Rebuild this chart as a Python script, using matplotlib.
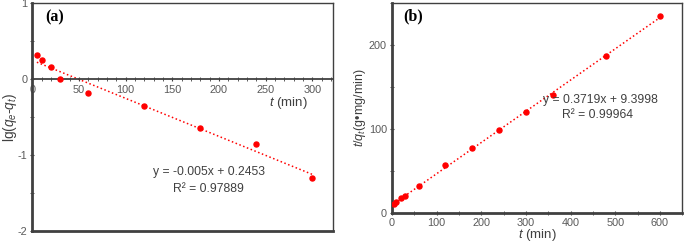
import numpy as np
import matplotlib
matplotlib.use("Agg")
import matplotlib.pyplot as plt
from matplotlib.ticker import MultipleLocator

# -----------------------------
# Data
t_a = [5, 10, 20, 30, 60, 120, 180, 240, 300]
lg_a = [0.32, 0.25, 0.155, 0.0, -0.19, -0.36, -0.64, -0.855, -1.30]
fit_a = (-0.005, 0.2453)

t_b = [5, 10, 20, 30, 60, 120, 180, 240, 300, 360, 480, 600]
tq_b = [11.2, 13.1, 17.8, 19.8, 31.7, 56.6, 77.5, 99.3, 119.8, 140.8, 187.4, 234.0]
fit_b = (0.3719, 9.3998)

red = "#ff0000"
frame = "#404040"
tick_col = "#595959"

plt.rcParams['font.family'] = ['Liberation Sans', 'DejaVu Sans']
plt.rcParams['mathtext.fontset'] = 'custom'
plt.rcParams['mathtext.it'] = 'Liberation Sans:italic'
plt.rcParams['mathtext.rm'] = 'Liberation Sans'
plt.rcParams['axes.unicode_minus'] = False

fig = plt.figure(figsize=(6.85, 2.42), dpi=100)

# -----------------------------
# Panel (a): pseudo-first-order
ax1 = fig.add_axes([0.047, 0.045, 0.439, 0.943])
ax1.scatter(t_a, lg_a, s=13, color=red, zorder=3)
xf = np.array([t_a[0], t_a[-1]])
ax1.plot(xf, fit_a[0] * xf + fit_a[1], color=red, ls=':', lw=1.1)
ax1.set_xlim(0, 322)
ax1.set_ylim(-2, 1)
ax1.spines['bottom'].set_position(('data', 0))
ax1.axhline(-2, color=frame, lw=2, clip_on=False)
for s in ax1.spines.values():
    s.set_color(frame)
ax1.spines['left'].set_linewidth(2)
ax1.spines['bottom'].set_linewidth(1.3)
ax1.spines['top'].set_linewidth(1)
ax1.spines['right'].set_linewidth(1)
ax1.xaxis.set_major_locator(MultipleLocator(50))
ax1.xaxis.set_minor_locator(MultipleLocator(10))
ax1.yaxis.set_major_locator(MultipleLocator(1))
ax1.yaxis.set_minor_locator(MultipleLocator(0.5))
ax1.tick_params(axis='x', which='both', direction='inout', length=3, color=frame,
                labelsize=7.8, labelcolor=tick_col, pad=3)
ax1.tick_params(axis='y', which='both', direction='inout', length=3, color=frame,
                labelsize=7.8, labelcolor=tick_col, pad=2)
ax1.set_ylabel(r'lg($q_e$-$q_t$)', fontsize=9.8, color='#404040')
ax1.yaxis.set_label_coords(-0.073, 0.5)
ax1.yaxis.label.set_va('center')
ax1.text(254, -0.316, r'$t$ (min)', fontsize=9.5, color='#404040', ha='left', va='center')
ax1.text(0.045, 0.935, '(a)', transform=ax1.transAxes, fontsize=11.5, fontweight='bold',
         family='Liberation Serif', va='center')
ax1.text(189, -1.224, 'y = -0.005x + 0.2453', fontsize=8.7, color='#404040', ha='center', va='center')
ax1.text(189, -1.447, 'R² = 0.97889', fontsize=8.7, color='#404040', ha='center', va='center')

# -----------------------------
# Panel (b): pseudo-second-order
ax2 = fig.add_axes([0.572, 0.12, 0.424, 0.868])
ax2.scatter(t_b, tq_b, s=13, color=red, zorder=3)
xf = np.array([t_b[0], t_b[-1]])
ax2.plot(xf, fit_b[0] * xf + fit_b[1], color=red, ls=':', lw=1.1)
ax2.set_xlim(0, 650)
ax2.set_ylim(0, 250)
for s in ax2.spines.values():
    s.set_color(frame)
ax2.spines['left'].set_linewidth(2)
ax2.spines['bottom'].set_linewidth(2)
ax2.spines['top'].set_linewidth(1)
ax2.spines['right'].set_linewidth(1)
ax2.xaxis.set_major_locator(MultipleLocator(100))
ax2.xaxis.set_minor_locator(MultipleLocator(50))
ax2.yaxis.set_major_locator(MultipleLocator(100))
ax2.yaxis.set_minor_locator(MultipleLocator(50))
ax2.tick_params(axis='both', which='both', direction='inout', length=3, color=frame,
                labelsize=7.8, labelcolor=tick_col, pad=2)
ax2.set_xlabel(r'$t$ (min)', fontsize=9.5, color='#404040')
ax2.xaxis.set_label_coords(0.5, -0.105)
ax2.xaxis.label.set_va('center')
ax2.set_ylabel(r'$t/q_t$(g•mg/min)', fontsize=9, color='#404040')
ax2.yaxis.set_label_coords(-0.11, 0.5)
ax2.yaxis.label.set_va('center')
ax2.text(0.04, 0.935, '(b)', transform=ax2.transAxes, fontsize=11.5, fontweight='bold',
         family='Liberation Serif', va='center')
ax2.text(466, 135, 'y = 0.3719x + 9.3998', fontsize=8.7, color='#404040', ha='center', va='center')
ax2.text(461, 116, 'R² = 0.99964', fontsize=8.7, color='#404040', ha='center', va='center')

fig.savefig("out.png", dpi=100)
